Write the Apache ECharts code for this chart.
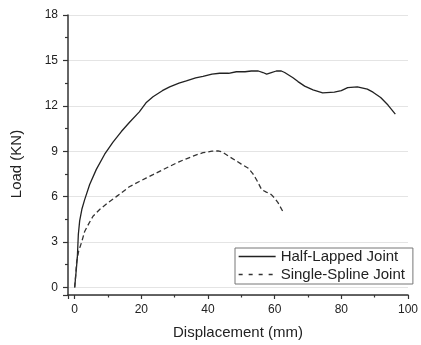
<!DOCTYPE html>
<html>
<head>
<meta charset="utf-8">
<script src="https://cdn.jsdelivr.net/npm/echarts@6/dist/echarts.min.js"></script>
<style>
html,body{margin:0;padding:0;background:#fff;}
#chart{width:421px;height:345px;}
</style>
</head>
<body>
<div id="chart"></div>
<script>
var seriesNames = ['Half-Lapped Joint', 'Single-Spline Joint'];
var xTitle = 'Displacement (mm)';
var yTitle = 'Load (KN)';

var halfLappedX = [0,0.5,0.8,1.1,1.5,2.2,3.0,4.5,6.5,9,11.5,14,16.4,19.4,21.4,23.5,26.3,28.5,31.3,33.5,36.3,38.5,41.2,43.5,46.2,48.5,51.1,53,55.1,56.5,57.6,59,60.5,62,63,65.5,67,69,71.5,74.4,77.9,80,81.9,84.8,87.8,89.5,91.8,94,96.2];
var halfLappedY = [0,1.2,2.0,3.5,4.4,5.2,5.8,6.8,7.8,8.8,9.6,10.3,10.9,11.6,12.2,12.6,13.0,13.25,13.5,13.65,13.85,13.95,14.1,14.15,14.15,14.25,14.25,14.3,14.3,14.2,14.1,14.2,14.3,14.3,14.2,13.85,13.6,13.3,13.05,12.85,12.9,13.0,13.2,13.25,13.1,12.9,12.55,12.05,11.45];

var singleSplineX = [0,0.3,0.6,1.2,2.1,3.0,4.2,5.5,7.5,10,12.5,16.4,19.4,21.4,23.5,26.3,28.5,31.3,33.5,36.3,38.5,41.2,43,44.2,46,48.2,50,52.1,53.5,54.6,56.1,57.5,59,60,61,62.5];
var singleSplineY = [0,0.8,1.7,2.4,3.0,3.7,4.2,4.7,5.15,5.6,6.0,6.65,7.0,7.22,7.45,7.76,8.0,8.3,8.5,8.74,8.9,9.0,9.02,8.96,8.7,8.4,8.15,7.87,7.5,7.1,6.46,6.3,6.13,5.9,5.6,5.0];

function pairs(xs, ys){ return xs.map(function(x,i){ return [x, ys[i]]; }); }

var chart = echarts.init(document.getElementById('chart'), null, {renderer:'canvas'});
var font = 'Liberation Sans, Arial, sans-serif';
chart.setOption({
  animation: false,
  backgroundColor: '#fff',
  textStyle: {fontFamily: font},
  grid: {left: 68, right: 10, top: 15, bottom: 48.3, containLabel: false},
  xAxis: {
    type: 'value', min: -2, max: 100, splitNumber: 5,
    name: xTitle, nameLocation: 'middle', nameGap: 30,
    nameTextStyle: {fontSize: 15, color: '#222', fontFamily: font},
    axisLine: {show: true, onZero: false, lineStyle: {color: '#333', width: 1.5}},
    axisTick: {show: true, inside: false, length: 4, lineStyle: {color: '#333', width: 1.2}},
    minorTick: {show: true, splitNumber: 2, length: 2.5, lineStyle: {color: '#333', width: 1.2}},
    axisLabel: {showMinLabel: false, fontSize: 12, color: '#222', margin: 9, fontFamily: font},
    splitLine: {show: false}
  },
  yAxis: {
    type: 'value', min: -0.5, max: 18, splitNumber: 6,
    name: yTitle, nameLocation: 'middle', nameGap: 44,
    nameTextStyle: {fontSize: 15, color: '#222', fontFamily: font, padding: [0, 18, 0, 0]},
    axisLine: {show: true, onZero: false, lineStyle: {color: '#333', width: 1.5}},
    axisTick: {show: true, inside: false, length: 5, lineStyle: {color: '#333', width: 1.2}},
    minorTick: {show: true, splitNumber: 2, length: 3, lineStyle: {color: '#333', width: 1.2}},
    axisLabel: {showMinLabel: false, fontSize: 12, color: '#222', margin: 10, fontFamily: font},
    splitLine: {show: true, lineStyle: {color: '#e4e4e4', width: 1}}
  },
  legend: {
    orient: 'vertical', left: 235, top: 248,
    backgroundColor: '#fff', borderColor: '#777', borderWidth: 1,
    padding: [1, 8, 2, 3], itemGap: 3, itemWidth: 37, itemHeight: 14,
    itemStyle: {opacity: 0, borderWidth: 0},
    textStyle: {fontSize: 15, color: '#222', fontFamily: font},
    data: [
      {name: seriesNames[0], lineStyle: {width: 1.3}},
      {name: seriesNames[1], lineStyle: {type: [4, 6], width: 1.3}}
    ]
  },
  series: [
    {
      name: seriesNames[0], type: 'line', data: pairs(halfLappedX, halfLappedY),
      showSymbol: false, symbol: 'none', smooth: false,
      lineStyle: {color: '#222', width: 1.3, type: 'solid'},
      itemStyle: {color: '#222'}
    },
    {
      name: seriesNames[1], type: 'line', data: pairs(singleSplineX, singleSplineY),
      showSymbol: false, symbol: 'none', smooth: false,
      lineStyle: {color: '#333', width: 1.3, type: [5, 3]},
      itemStyle: {color: '#333'}
    }
  ]
});
</script>
</body>
</html>
